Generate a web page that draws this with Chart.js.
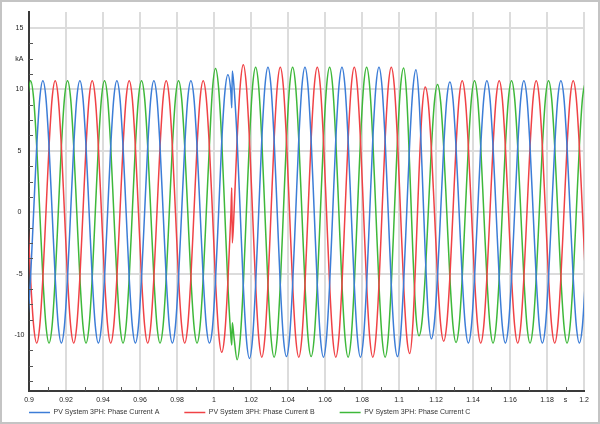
<!DOCTYPE html>
<html>
<head>
<meta charset="utf-8">
<script src="https://cdn.jsdelivr.net/npm/chart.js@4.4.1/dist/chart.umd.min.js"></script>
<style>
  html, body { margin: 0; padding: 0; background: #fff; }
</style>
</head>
<body>
<canvas id="currents" width="600" height="424"></canvas>
<script>
// sample times (s), one row per 20 ms cycle; two extra samples at the 1.0097 s jump
const TIME = [
  0.89917, 0.90083, 0.9025, 0.90417, 0.90583, 0.9075, 0.90917, 0.91083, 0.9125, 0.91417, 0.91583, 0.9175,
  0.91917, 0.92083, 0.9225, 0.92417, 0.92583, 0.9275, 0.92917, 0.93083, 0.9325, 0.93417, 0.93583, 0.9375,
  0.93917, 0.94083, 0.9425, 0.94417, 0.94583, 0.9475, 0.94917, 0.95083, 0.9525, 0.95417, 0.95583, 0.9575,
  0.95917, 0.96083, 0.9625, 0.96417, 0.96583, 0.9675, 0.96917, 0.97083, 0.9725, 0.97417, 0.97583, 0.9775,
  0.97917, 0.98083, 0.9825, 0.98417, 0.98583, 0.9875, 0.98917, 0.99083, 0.9925, 0.99417, 0.99583, 0.9975,
  0.99917, 1.00083, 1.0025, 1.00417, 1.00583, 1.0075, 1.00917, 1.0096, 1.0099, 1.01083, 1.0125, 1.01417, 1.01583, 1.0175,
  1.01917, 1.02083, 1.0225, 1.02417, 1.02583, 1.0275, 1.02917, 1.03083, 1.0325, 1.03417, 1.03583, 1.0375,
  1.03917, 1.04083, 1.0425, 1.04417, 1.04583, 1.0475, 1.04917, 1.05083, 1.0525, 1.05417, 1.05583, 1.0575,
  1.05917, 1.06083, 1.0625, 1.06417, 1.06583, 1.0675, 1.06917, 1.07083, 1.0725, 1.07417, 1.07583, 1.0775,
  1.07917, 1.08083, 1.0825, 1.08417, 1.08583, 1.0875, 1.08917, 1.09083, 1.0925, 1.09417, 1.09583, 1.0975,
  1.09917, 1.10083, 1.1025, 1.10417, 1.10583, 1.1075, 1.10917, 1.11083, 1.1125, 1.11417, 1.11583, 1.1175,
  1.11917, 1.12083, 1.1225, 1.12417, 1.12583, 1.1275, 1.12917, 1.13083, 1.1325, 1.13417, 1.13583, 1.1375,
  1.13917, 1.14083, 1.1425, 1.14417, 1.14583, 1.1475, 1.14917, 1.15083, 1.1525, 1.15417, 1.15583, 1.1575,
  1.15917, 1.16083, 1.1625, 1.16417, 1.16583, 1.1675, 1.16917, 1.17083, 1.1725, 1.17417, 1.17583, 1.1775,
  1.17917, 1.18083, 1.1825, 1.18417, 1.18583, 1.1875, 1.18917, 1.19083, 1.1925, 1.19417, 1.19583, 1.1975,
  1.19917, 1.20083
];

// kA
const PHASE_A = [
  -9.22, -5.33, 0, 5.35, 9.27, 10.7, 9.27, 5.35, 0, -5.33, -9.22, -10.65,
  -9.22, -5.33, 0, 5.35, 9.27, 10.7, 9.27, 5.35, 0, -5.33, -9.22, -10.65,
  -9.22, -5.33, 0, 5.35, 9.27, 10.7, 9.27, 5.35, 0, -5.33, -9.22, -10.65,
  -9.22, -5.33, 0, 5.35, 9.27, 10.7, 9.27, 5.35, 0, -5.33, -9.22, -10.65,
  -9.22, -5.33, 0, 5.35, 9.27, 10.7, 9.27, 5.35, 0, -5.33, -9.22, -10.65,
  -9.4, -5.5, 0, 5.7, 9.7, 11.2, 9.7, 8.5, 11.5, 10.2, 5.9, 0, -5.95, -10.3,
  -11.9, -10.3, -5.9, 0, 5.9, 10.2, 11.8, 10.2, 5.9, 0, -5.9, -10.2,
  -11.75, -10.2, -5.9, 0, 5.9, 10.2, 11.8, 10.2, 5.9, 0, -5.9, -10.2,
  -11.8, -10.2, -5.9, 0, 5.9, 10.2, 11.8, 10.2, 5.9, 0, -5.9, -10.2,
  -11.8, -10.2, -5.9, 0, 5.9, 10.2, 11.8, 10.2, 5.9, 0, -5.9, -10.2,
  -11.75, -10.1, -5.8, 0, 5.8, 10.0, 11.6, 9.2, 3.4, -3.3, -8.4, -10.3,
  -8.9, -5.2, 0, 5.3, 9.2, 10.6, 9.2, 5.3, 0, -5.33, -9.22, -10.65,
  -9.22, -5.33, 0, 5.35, 9.27, 10.7, 9.27, 5.35, 0, -5.33, -9.22, -10.65,
  -9.22, -5.33, 0, 5.35, 9.27, 10.7, 9.27, 5.35, 0, -5.33, -9.22, -10.65,
  -9.22, -5.33, 0, 5.35, 9.27, 10.7, 9.27, 5.35, 0, -5.33, -9.22, -10.65,
  -9.22, -5.33
];

const PHASE_B = [
  0, -5.33, -9.22, -10.65, -9.22, -5.33, 0, 5.35, 9.27, 10.7, 9.27, 5.35,
  0, -5.33, -9.22, -10.65, -9.22, -5.33, 0, 5.35, 9.27, 10.7, 9.27, 5.35,
  0, -5.33, -9.22, -10.65, -9.22, -5.33, 0, 5.35, 9.27, 10.7, 9.27, 5.35,
  0, -5.33, -9.22, -10.65, -9.22, -5.33, 0, 5.35, 9.27, 10.7, 9.27, 5.35,
  0, -5.33, -9.22, -10.65, -9.22, -5.33, 0, 5.35, 9.27, 10.7, 9.27, 5.35,
  0, -5.6, -9.8, -11.4, -9.9, -5.7, 0, 2.0, -2.5, 0, 5.95, 10.3, 12.0, 10.3,
  5.9, 0, -5.9, -10.2, -11.8, -10.2, -5.9, 0, 5.9, 10.2, 11.8, 10.2,
  5.9, 0, -5.9, -10.2, -11.8, -10.2, -5.9, 0, 5.9, 10.2, 11.8, 10.2,
  5.9, 0, -5.9, -10.2, -11.8, -10.2, -5.9, 0, 5.9, 10.2, 11.8, 10.2,
  5.9, 0, -5.9, -10.2, -11.8, -10.2, -5.9, 0, 5.9, 10.2, 11.8, 10.2,
  5.9, 0, -5.9, -10.1, -11.5, -9.1, -3.35, 3.25, 8.35, 10.2, 8.9, 5.15,
  0, -5.2, -9.1, -10.5, -9.1, -5.3, 0, 5.35, 9.27, 10.7, 9.27, 5.35,
  0, -5.33, -9.22, -10.65, -9.22, -5.33, 0, 5.35, 9.27, 10.7, 9.27, 5.35,
  0, -5.33, -9.22, -10.65, -9.22, -5.33, 0, 5.35, 9.27, 10.7, 9.27, 5.35,
  0, -5.33, -9.22, -10.65, -9.22, -5.33, 0, 5.35, 9.27, 10.7, 9.27, 5.35,
  0, -5.33
];

const PHASE_C = [
  9.27, 10.7, 9.27, 5.35, 0, -5.33, -9.22, -10.65, -9.22, -5.33, 0, 5.35,
  9.27, 10.7, 9.27, 5.35, 0, -5.33, -9.22, -10.65, -9.22, -5.33, 0, 5.35,
  9.27, 10.7, 9.27, 5.35, 0, -5.33, -9.22, -10.65, -9.22, -5.33, 0, 5.35,
  9.27, 10.7, 9.27, 5.35, 0, -5.33, -9.22, -10.65, -9.22, -5.33, 0, 5.35,
  9.27, 10.7, 9.27, 5.35, 0, -5.33, -9.22, -10.65, -9.22, -5.33, 0, 5.35,
  10.0, 11.7, 10.1, 5.85, 0, -5.9, -10.2, -10.8, -9.0, -10.2, -12.0, -10.3, -5.95, 0,
  5.9, 10.2, 11.8, 10.2, 5.9, 0, -5.9, -10.2, -11.8, -10.2, -5.9, 0,
  5.9, 10.2, 11.8, 10.2, 5.9, 0, -5.9, -10.2, -11.75, -10.2, -5.9, 0,
  5.9, 10.2, 11.8, 10.2, 5.9, 0, -5.9, -10.2, -11.8, -10.2, -5.9, 0,
  5.9, 10.2, 11.8, 10.2, 5.9, 0, -5.9, -10.2, -11.8, -10.2, -5.9, 0,
  5.9, 10.2, 11.75, 9.4, 3.5, -3.3, -8.4, -10.05, -8.8, -5.15, 0, 5.2,
  9.0, 10.4, 9.0, 5.25, 0, -5.3, -9.2, -10.6, -9.22, -5.33, 0, 5.35,
  9.27, 10.7, 9.27, 5.35, 0, -5.33, -9.22, -10.65, -9.22, -5.33, 0, 5.35,
  9.27, 10.7, 9.27, 5.35, 0, -5.33, -9.22, -10.65, -9.22, -5.33, 0, 5.35,
  9.27, 10.7, 9.27, 5.35, 0, -5.33, -9.22, -10.65, -9.22, -5.33, 0, 5.35,
  9.27, 10.7
];

const SERIES_NAMES = [
  'PV System 3PH: Phase Current A',
  'PV System 3PH: Phase Current B',
  'PV System 3PH: Phase Current C'
];

const X_TICKS = [0.9, 0.91, 0.92, 0.93, 0.94, 0.95, 0.96, 0.97, 0.98, 0.99, 1,
  1.01, 1.02, 1.03, 1.04, 1.05, 1.06, 1.07, 1.08, 1.09, 1.1,
  1.11, 1.12, 1.13, 1.14, 1.15, 1.16, 1.17, 1.18, 1.19, 1.2];
const X_LABELS = ['0.9', '', '0.92', '', '0.94', '', '0.96', '', '0.98', '', '1',
  '', '1.02', '', '1.04', '', '1.06', '', '1.08', '', '1.1',
  '', '1.12', '', '1.14', '', '1.16', '', '1.18', 's', '1.2'];

const Y_TICKS = [-13.75, -12.5, -11.25, -10, -8.75, -7.5, -6.25, -5, -3.75, -2.5, -1.25, 0,
  1.25, 2.5, 3.75, 5, 6.25, 7.5, 8.75, 10, 11.25, 12.5, 13.75, 15];
const Y_LABELS = ['', '', '', '-10', '', '', '', '-5', '', '', '', '0',
  '', '', '', '5', '', '', '', '10', '', 'kA', '', '15'];

const COLORS = ['rgb(60,125,215)', 'rgb(240,66,70)', 'rgb(62,184,58)'];
const FONT = { family: "'Liberation Sans', Arial, sans-serif", size: 7 };
const GRID = '#dcdcdc';

const isMajor = label => label !== '' && !isNaN(Number(label));
const toPoints = values => TIME.map((t, i) => ({ x: t, y: values[i] }));

// short inward ticks for the unlabeled positions, plus the grey frame
const minorTicks = {
  id: 'minorTicks',
  afterDraw(chart) {
    const { ctx, chartArea, scales } = chart;
    ctx.save();
    ctx.strokeStyle = '#555';
    ctx.lineWidth = 1;
    ctx.beginPath();
    scales.x.ticks.forEach((t, i) => {
      if (isMajor(X_LABELS[i])) return;
      const px = Math.round(scales.x.getPixelForValue(t.value)) + 0.5;
      ctx.moveTo(px, chartArea.bottom);
      ctx.lineTo(px, chartArea.bottom - 4);
    });
    scales.y.ticks.forEach((t, i) => {
      if (isMajor(Y_LABELS[i])) return;
      const py = Math.round(scales.y.getPixelForValue(t.value)) + 0.5;
      ctx.moveTo(chartArea.left, py);
      ctx.lineTo(chartArea.left + 4, py);
    });
    ctx.stroke();
    ctx.strokeStyle = '#c4c4c4';
    ctx.lineWidth = 2;
    ctx.strokeRect(1, 1, chart.width - 2, chart.height - 2);
    ctx.restore();
  }
};

// legend padding is wide for the item spacing, so stretch its box upward
// (the legend clips to its box) to lift the row under the axis labels
const legendNudge = {
  id: 'legendNudge',
  afterLayout(chart) {
    chart.legend.top -= 20;
  }
};

new Chart(document.getElementById('currents'), {
  type: 'line',
  data: {
    datasets: [PHASE_A, PHASE_B, PHASE_C].map((values, i) => ({
      label: SERIES_NAMES[i],
      data: toPoints(values),
      borderColor: COLORS[i],
      backgroundColor: COLORS[i],
      borderWidth: 1.5,
      pointRadius: 0,
      cubicInterpolationMode: 'monotone',
      fill: false
    }))
  },
  options: {
    responsive: false,
    animation: false,
    devicePixelRatio: 1,
    layout: { padding: { left: 4, right: 16, top: 12, bottom: 0 } },
    plugins: {
      legend: {
        position: 'bottom',
        align: 'start',
        maxHeight: 20,
        labels: {
          usePointStyle: true,
          pointStyle: 'line',
          pointStyleWidth: 21,
          padding: 25,
          font: FONT,
          color: '#333'
        }
      },
      tooltip: { enabled: false }
    },
    scales: {
      x: {
        type: 'linear',
        min: 0.9,
        max: 1.2,
        afterBuildTicks: scale => { scale.ticks = X_TICKS.map(value => ({ value })); },
        afterFit: scale => { scale.height = 13; },
        ticks: {
          autoSkip: false,
          maxRotation: 0,
          padding: 5,
          font: FONT,
          color: '#222',
          callback: (value, index) => X_LABELS[index]
        },
        grid: {
          drawTicks: false,
          lineWidth: 2,
          color: c => isMajor(X_LABELS[c.index]) ? GRID : 'rgba(0,0,0,0)'
        },
        border: { color: '#3a3a3a', width: 2 }
      },
      y: {
        min: -14.55,
        max: 16.3,
        afterBuildTicks: scale => { scale.ticks = Y_TICKS.map(value => ({ value })); },
        afterFit: scale => { scale.width = 25; },
        ticks: {
          autoSkip: false,
          crossAlign: 'center',
          padding: 4.5,
          font: FONT,
          color: '#222',
          callback: (value, index) => Y_LABELS[index]
        },
        grid: {
          drawTicks: false,
          lineWidth: 2,
          color: c => isMajor(Y_LABELS[c.index]) ? GRID : 'rgba(0,0,0,0)'
        },
        border: { color: '#3a3a3a', width: 2 }
      }
    }
  },
  plugins: [minorTicks, legendNudge]
});
</script>
</body>
</html>
